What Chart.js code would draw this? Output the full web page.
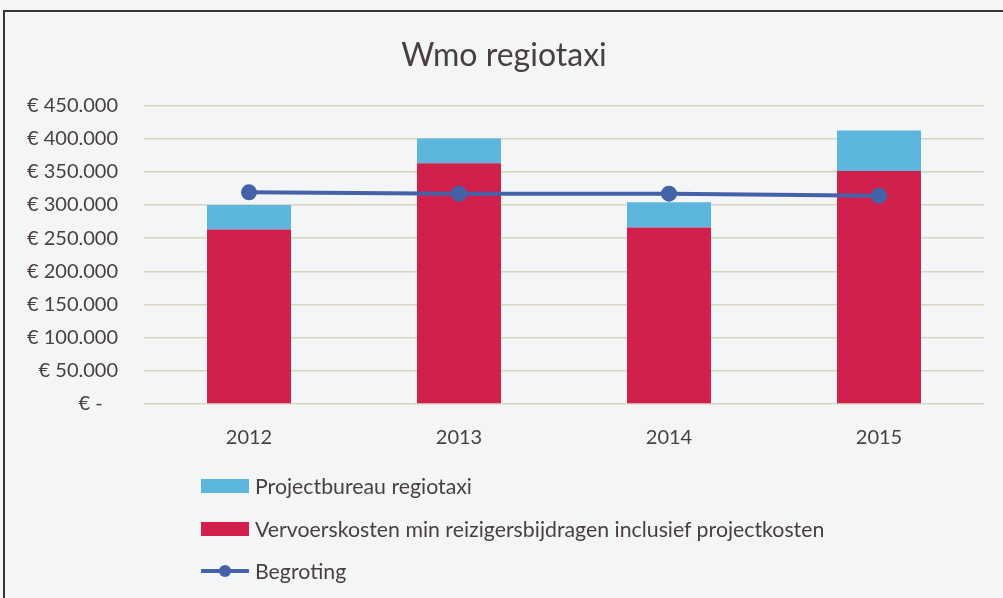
<!DOCTYPE html>
<html>
<head>
<meta charset="utf-8">
<script src="https://cdn.jsdelivr.net/npm/chart.js@4/dist/chart.umd.min.js"></script>
<style>
    html, body { margin: 0; padding: 0; background: #f3f5f7; }
    #wrap { position: relative; width: 1003px; height: 598px; overflow: hidden; }
    #frame { position: absolute; left: 3px; top: 10px; right: -5px; bottom: -5px;
             border-top: 2px solid #3b3232; border-left: 2px solid #3b3232; pointer-events: none; }
    #legend { position: absolute; left: 201px; top: 465px; font-family: Lato, sans-serif;
              font-size: 21.3px; color: #4a3f3f; }
    .item { display: flex; align-items: center; height: 42.5px; }
    .swatch { width: 48px; height: 14px; margin-right: 6px; position: relative; }
</style>
</head>
<body>
<div id="wrap">
    <canvas id="myChart" width="1003" height="598"></canvas>
    <div id="frame"></div>
    <div id="legend"></div>
</div>
<script>
// values (euro)
const years = ['2012', '2013', '2014', '2015'];
const vervoerskosten = [263000, 363000, 266000, 351000];
const projectbureau = [37000, 37000, 38000, 61000];
const begroting = [319000, 317000, 317000, 314000];

const colors = {
    red: '#d2204c',
    blue: '#5cb6de',
    line: '#4462a8',
    text: '#4a3f3f',
    grid: 'rgba(196, 186, 150, 0.55)'
};

function euro(value) {
    if (value === 0) return '€ -   ';
    return '€ ' + value.toLocaleString('nl-NL');
}

const ctx = document.getElementById('myChart').getContext('2d');
const chart = new Chart(ctx, {
    type: 'bar',
    data: {
        labels: years,
        datasets: [
            {
                label: 'Vervoerskosten min reizigersbijdragen inclusief projectkosten',
                data: vervoerskosten,
                backgroundColor: colors.red,
                stack: 'kosten',
                order: 1
            },
            {
                label: 'Projectbureau regiotaxi',
                data: projectbureau,
                backgroundColor: colors.blue,
                stack: 'kosten',
                order: 1
            },
            {
                type: 'line',
                label: 'Begroting',
                data: begroting,
                borderColor: colors.line,
                backgroundColor: colors.line,
                borderWidth: 4,
                pointRadius: 6,
                pointHoverRadius: 6,
                stack: 'begroting',
                order: 0
            }
        ]
    },
    options: {
        responsive: false,
        animation: false,
        layout: { padding: { left: 24, right: 19, top: 10, bottom: 134 } },
        datasets: { bar: { categoryPercentage: 1, barPercentage: 0.4 } },
        plugins: {
            legend: { display: false },
            tooltip: { enabled: false },
            title: {
                display: true,
                text: 'Wmo regiotaxi',
                color: colors.text,
                font: { family: 'Lato', size: 32, weight: 'normal' },
                padding: { top: 26, bottom: 31 }
            }
        },
        scales: {
            x: {
                stacked: true,
                grid: { display: false },
                border: { display: false },
                ticks: { color: colors.text, font: { family: 'Lato', size: 20 }, padding: 14 }
            },
            y: {
                stacked: true,
                min: 0,
                max: 450000,
                afterFit: function(scale) { scale.width = 120; },
                grid: { color: colors.grid, lineWidth: 1.5, drawTicks: false },
                border: { display: false },
                ticks: {
                    stepSize: 50000,
                    padding: 26,
                    color: colors.text,
                    font: { family: 'Lato', size: 20 },
                    callback: function(value) { return euro(value); }
                }
            }
        }
    }
});

// vertical legend under the chart, built from the datasets
const legend = document.getElementById('legend');
const legendOrder = [1, 0, 2];
legendOrder.forEach(i => {
    const ds = chart.data.datasets[i];
    const item = document.createElement('div');
    item.className = 'item';
    const swatch = document.createElement('div');
    swatch.className = 'swatch';
    if (ds.type === 'line') {
        swatch.innerHTML =
            '<div style="position:absolute;left:0;right:0;top:5px;height:4px;background:' + ds.borderColor + '"></div>' +
            '<div style="position:absolute;left:18px;top:1px;width:12px;height:12px;border-radius:6px;background:' + ds.borderColor + '"></div>';
    } else {
        swatch.style.background = ds.backgroundColor;
    }
    const label = document.createElement('span');
    label.textContent = ds.label;
    item.appendChild(swatch);
    item.appendChild(label);
    legend.appendChild(item);
});
</script>
</body>
</html>
